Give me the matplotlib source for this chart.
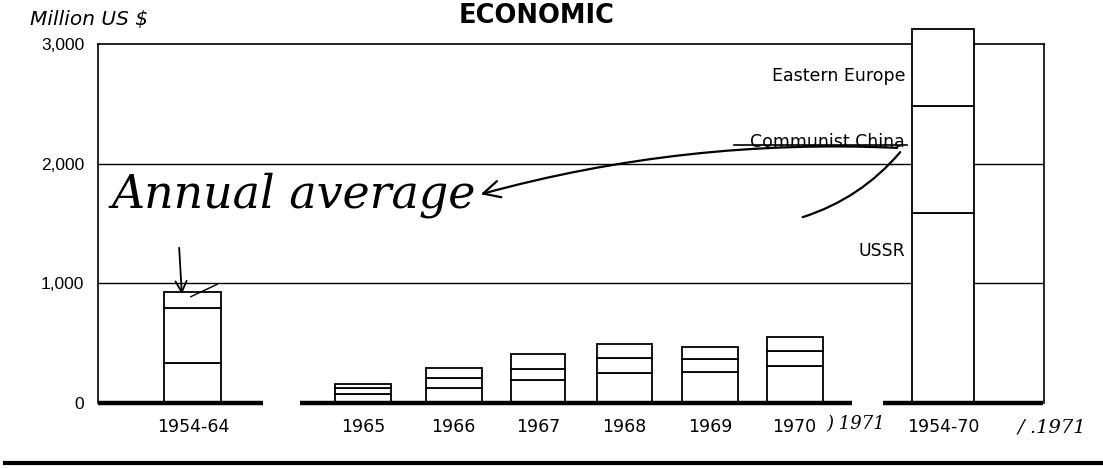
import matplotlib.pyplot as plt
from matplotlib.patches import FancyArrowPatch

# ---- values (million US $) ----
CATEGORIES = ["1954-64", "1965", "1966", "1967", "1968", "1969", "1970", "1954-70"]
USSR = [334, 75, 125, 192, 250, 260, 310, 1590]
CHINA = [460, 50, 85, 92, 125, 108, 125, 890]
EAST_EUROPE = [133, 35, 85, 125, 118, 100, 115, 645]
YTICKS = [0, 1000, 2000, 3000]
YTICK_LABELS = ["0", "1,000", "2,000", "3,000"]
# ----------------------------------------------------------

# slot positions (layout only)
POS = [-1.97, 0, 1.05, 2.03, 3.03, 4.02, 5.0, 6.72]
WIDTHS = [0.66, 0.66, 0.65, 0.62, 0.64, 0.65, 0.65, 0.71]
FONT = "DejaVu Sans"
W, H = 1103, 468


def fig_xy(px, py):
    return px / W, 1 - py / H


fig = plt.figure(figsize=(W / 100, H / 100), dpi=100)
ax = fig.add_axes([98 / W, 1 - 403 / H, (1044 - 98) / W, (403 - 44) / H])
ax.set_xlim(-3.07, 7.89)
ax.set_ylim(0, 3000)

# grid lines behind bars
for yv in YTICKS[1:3]:
    ax.axhline(yv, color="black", lw=1.0, zorder=1)

bottom2 = [u + c for u, c in zip(USSR, CHINA)]
kw = dict(color="white", edgecolor="black", linewidth=1.3, zorder=3, clip_on=False)
ax.bar(POS, USSR, width=WIDTHS, **kw)
ax.bar(POS, CHINA, width=WIDTHS, bottom=USSR, **kw)
ax.bar(POS, EAST_EUROPE, width=WIDTHS, bottom=bottom2, **kw)

# thick broken baseline
for x0, x1 in [(-3.07, -1.16), (-0.73, 5.67), (6.03, 7.88)]:
    ax.plot([x0, x1], [0, 0], color="black", lw=3.2, solid_capstyle="butt",
            zorder=4, clip_on=False)

ax.spines["bottom"].set_visible(False)
for side in ["left", "top", "right"]:
    ax.spines[side].set_linewidth(1.2)

ax.set_yticks(YTICKS, YTICK_LABELS, family="Liberation Sans", fontsize=12.5)
ax.set_xticks(POS, CATEGORIES, family=FONT, fontsize=12.5)
ax.tick_params(axis="y", length=0, pad=10)
ax.tick_params(axis="x", length=0, pad=11)

# series labels, right-aligned next to the big bar
lab_x = 6.28
ax.text(lab_x, 2730, "Eastern Europe", ha="right", va="center",
        family=FONT, fontsize=12.5)
ax.text(lab_x, 2180, "Communist China", ha="right", va="center",
        family=FONT, fontsize=12.5)
ax.text(lab_x, 1270, "USSR", ha="right", va="center", family=FONT, fontsize=12.5)
ax.plot([4.3, 6.3], [2160, 2160], color="black", lw=1.2, zorder=5)

# headings
fig.text(*fig_xy(30, 19), "Million US $", family=FONT, style="italic",
         fontsize=14.5, va="center", ha="left")
fig.text(*fig_xy(537, 16), "ECONOMIC", family=FONT, weight="bold",
         fontsize=18.5, va="center", ha="center")

# handwritten notes
fig.text(*fig_xy(112, 195), "Annual average", family="DejaVu Serif",
         style="italic", fontsize=33, va="center", ha="left")
fig.patches.append(FancyArrowPatch(fig_xy(900, 148), fig_xy(478, 195),
                                   transform=fig.transFigure,
                                   connectionstyle="arc3,rad=0.08",
                                   arrowstyle="->,head_length=12,head_width=6",
                                   color="black", lw=1.6))
fig.patches.append(FancyArrowPatch(fig_xy(800, 218), fig_xy(902, 150),
                                   transform=fig.transFigure,
                                   connectionstyle="arc3,rad=0.15",
                                   arrowstyle="-", color="black", lw=1.6))
fig.patches.append(FancyArrowPatch(fig_xy(179, 245), fig_xy(182, 297),
                                   transform=fig.transFigure,
                                   arrowstyle="->,head_length=8,head_width=4",
                                   color="black", lw=1.3))
fig.patches.append(FancyArrowPatch(fig_xy(188, 298), fig_xy(220, 283),
                                   transform=fig.transFigure,
                                   arrowstyle="-", color="black", lw=1.0))
fig.text(*fig_xy(826, 424), ") 1971", family="DejaVu Serif", style="italic",
         fontsize=13, va="center", ha="left")
fig.text(*fig_xy(1018, 428), "/ .1971", family="DejaVu Serif", style="italic",
         fontsize=14, va="center", ha="left")

# rule under the chart
fig.lines.append(plt.Line2D([5 / W, 1.0], [1 - 463 / H] * 2,
                            transform=fig.transFigure, color="black", lw=3.0))

fig.savefig("out.png", dpi=100)
